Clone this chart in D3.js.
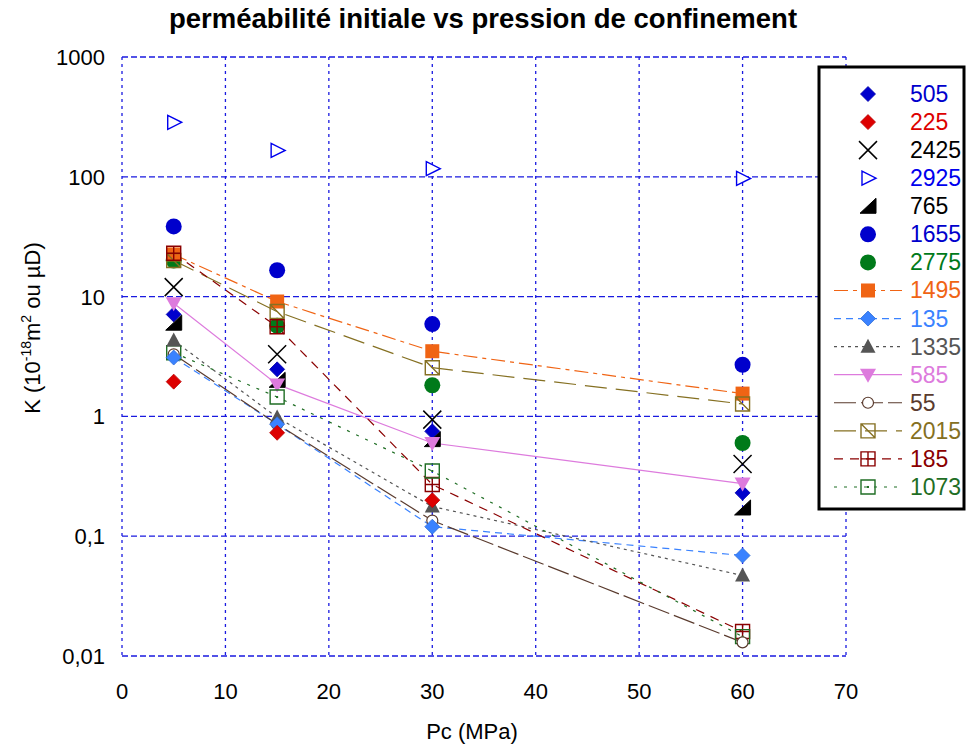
<!DOCTYPE html>
<html><head><meta charset="utf-8">
<script src="https://cdn.jsdelivr.net/npm/d3@7"></script>
<style>body{margin:0;background:#fff}svg{font-family:"Liberation Sans",Arial,sans-serif}</style>
</head><body><svg id="c" width="966" height="747"></svg>
<script>
const pressures = [5, 15, 30, 60];
const seriesNames = ["505","225","2425","2925","765","1655","2775","1495","135","1335","585","55","2015","185","1073"];
const v505  = [7.1, 2.47, 0.75, 0.23];
const v225  = [1.95, 0.73, 0.2, null];
const v2425 = [12, 3.3, 0.94, 0.4];
const v2925 = [285, 166, 117, 97];
const v765  = [6.0, 2.0, 0.64, 0.172];
const v1655 = [38.5, 16.6, 5.9, 2.7];
const v2775 = [20, 5.7, 1.82, 0.6];
const v1495 = [22.5, 9.1, 3.5, 1.55];
const v135  = [3.1, 0.86, 0.12, 0.069];
const v1335 = [4.3, 0.98, 0.177, 0.047];
const v585  = [8.8, 1.85, 0.6, 0.275];
const v55   = [3.3, 0.86, 0.135, 0.013];
const v2015 = [20, 7.5, 2.55, 1.27];
const v185  = [23, 5.6, 0.27, 0.016];
const v1073 = [3.4, 1.45, 0.35, 0.0145];
const yTicks = [1000, 100, 10, 1, 0.1, 0.01];
const yTickLabels = ["1000","100","10","1","0,1","0,01"];
const xTicks = [0,10,20,30,40,50,60,70];

const values = [v505,v225,v2425,v2925,v765,v1655,v2775,v1495,v135,v1335,v585,v55,v2015,v185,v1073];
const styles = {
 "505":{c:"#0000cc",m:"diamond",line:null},
 "225":{c:"#dd0000",m:"diamond",line:null},
 "2425":{c:"#000000",m:"x",line:null},
 "2925":{c:"#0000ee",m:"triR",line:null},
 "765":{c:"#000000",m:"half",line:null},
 "1655":{c:"#0000cc",m:"circle",line:null},
 "2775":{c:"#007a1a",m:"circle",line:null},
 "1495":{c:"#f06414",m:"square",line:"14,5,4,5"},
 "135":{c:"#3a82ff",m:"diamond",line:"7,5"},
 "1335":{c:"#555555",m:"triU",line:"3,4"},
 "585":{c:"#dd7bdd",m:"triD",line:null},
 "55":{c:"#5a3b2e",m:"ocircle",line:"22,5"},
 "2015":{c:"#857022",m:"sqslash",line:"22,9"},
 "185":{c:"#8a0000",m:"sqplus",line:"9,7"},
 "1073":{c:"#1f6e24",m:"sqdot",line:"3,7"}
};
const lined = ["1495","135","1335","585","55","2015","185","1073"];

const svg = d3.select("#c");
const x = d3.scaleLinear().domain([0,70]).range([122,846]);
const y = d3.scaleLog().domain([0.01,1000]).range([656,57]);

// title
svg.append("text").attr("x",483).attr("y",28).attr("text-anchor","middle")
  .attr("font-size",27.5).attr("font-weight","bold").text("perméabilité initiale vs pression de confinement");

// grid
const g = svg.append("g");
g.selectAll(".hg").data(yTicks).enter().append("line")
 .attr("x1",x(0)).attr("x2",x(70)).attr("y1",d=>y(d)).attr("y2",d=>y(d))
 .attr("stroke","#1a1ae0").attr("stroke-width",1.3).attr("stroke-dasharray","6,3");
g.selectAll(".vg").data(xTicks).enter().append("line")
 .attr("y1",y(1000)).attr("y2",y(0.01)).attr("x1",d=>x(d)).attr("x2",d=>x(d))
 .attr("stroke","#1a1ae0").attr("stroke-width",1.3).attr("stroke-dasharray","3,4");

// tick labels
svg.selectAll(".yt").data(yTicks).enter().append("text")
 .attr("x",105).attr("y",d=>y(d)+8).attr("text-anchor","end").attr("font-size",22)
 .text((d,i)=>yTickLabels[i]);
svg.selectAll(".xt").data(xTicks).enter().append("text")
 .attr("x",d=>x(d)).attr("y",699).attr("text-anchor","middle").attr("font-size",22)
 .text(d=>d);
svg.append("text").attr("x",472).attr("y",739).attr("text-anchor","middle").attr("font-size",22).text("Pc (MPa)");
const yl = svg.append("text").attr("transform","translate(40,328) rotate(-90)").attr("text-anchor","middle").attr("font-size",22);
yl.append("tspan").text("K (10");
yl.append("tspan").attr("dy",-9).attr("font-size",14).text("-18");
yl.append("tspan").attr("dy",9).text("m");
yl.append("tspan").attr("dy",-9).attr("font-size",14).text("2");
yl.append("tspan").attr("dy",9).text(" ou µD)");

function marker(s, type, c){
  switch(type){
    case "diamond": s.append("path").attr("d","M0,-7.5L7.5,0L0,7.5L-7.5,0Z").attr("fill",c).attr("stroke",d3.color(c).darker(0.5)).attr("stroke-width",0.8); break;
    case "x": s.append("path").attr("d","M-9,-9L9,9M-9,9L9,-9").attr("stroke",c).attr("stroke-width",1.5).attr("fill","none"); break;
    case "triR": s.append("path").attr("d","M-6,-7L8,0L-6,7Z").attr("fill","#fff").attr("stroke",c).attr("stroke-width",1.4); break;
    case "half": s.append("path").attr("d","M8,-8L8,7L-8,7Z").attr("fill",c).attr("stroke",c).attr("stroke-width",1); break;
    case "circle": s.append("circle").attr("r",8).attr("fill",c); break;
    case "ocircle": s.append("circle").attr("r",5.5).attr("fill","#fff").attr("stroke",c).attr("stroke-width",1.2); break;
    case "square": s.append("rect").attr("x",-7).attr("y",-7).attr("width",14).attr("height",14).attr("fill",c); break;
    case "triU": s.append("path").attr("d","M0,-8L7.5,6L-7.5,6Z").attr("fill",c); break;
    case "triD": s.append("path").attr("d","M-8,-6L8,-6L0,8Z").attr("fill",c); break;
    case "sqslash": s.append("path").attr("d","M-7,-7H7V7H-7ZM-7,-7L7,7").attr("fill","none").attr("stroke",c).attr("stroke-width",1.4); break;
    case "sqplus": s.append("path").attr("d","M-7,-7H7V7H-7ZM0,-7V7M-7,0H7").attr("fill","none").attr("stroke",c).attr("stroke-width",1.4); break;
    case "sqdot": s.append("path").attr("d","M-7,-7H7V7H-7Z").attr("fill","none").attr("stroke",c).attr("stroke-width",1.4);
      s.append("rect").attr("x",-1).attr("y",-1).attr("width",2).attr("height",2).attr("fill",c); break;
  }
}

// lines
const lineGen = d3.line().defined(d=>d[1]!=null).x(d=>x(d[0])).y(d=>y(d[1]));
seriesNames.forEach((n,i)=>{
  const st = styles[n];
  if(!lined.includes(n)) return;
  const pts = pressures.map((p,j)=>[p,values[i][j]]);
  svg.append("path").attr("d",lineGen(pts)).attr("fill","none").attr("stroke",st.c)
    .attr("stroke-width",1.2).attr("stroke-dasharray",st.line||null);
});
const drawOrder = ["2925","1655","2775","1495","2015","185","2425","505","765","585","1073","1335","55","135","225"];
drawOrder.forEach(n=>{
  const i = seriesNames.indexOf(n);
  pressures.forEach((p,j)=>{
    const v = values[i][j]; if(v==null) return;
    const gg = svg.append("g").attr("transform",`translate(${x(p)},${y(v)})`);
    marker(gg, styles[n].m, styles[n].c);
  });
});

// legend
const lg = svg.append("g");
lg.append("rect").attr("x",819).attr("y",67).attr("width",145).attr("height",442).attr("fill","#fff").attr("stroke","#000").attr("stroke-width",3);
seriesNames.forEach((n,i)=>{
  const st = styles[n];
  const yy = 94 + i*28.07;
  if(lined.includes(n)){
    lg.append("line").attr("x1",834).attr("x2",902).attr("y1",yy).attr("y2",yy).attr("stroke",st.c)
      .attr("stroke-width",1.2).attr("stroke-dasharray",st.line||null);
  }
  const gg = lg.append("g").attr("transform",`translate(868,${yy})`);
  marker(gg, st.m, st.c);
  lg.append("text").attr("x",910).attr("y",yy+8).attr("font-size",23).attr("fill",st.c).text(n);
});
</script></body></html>
